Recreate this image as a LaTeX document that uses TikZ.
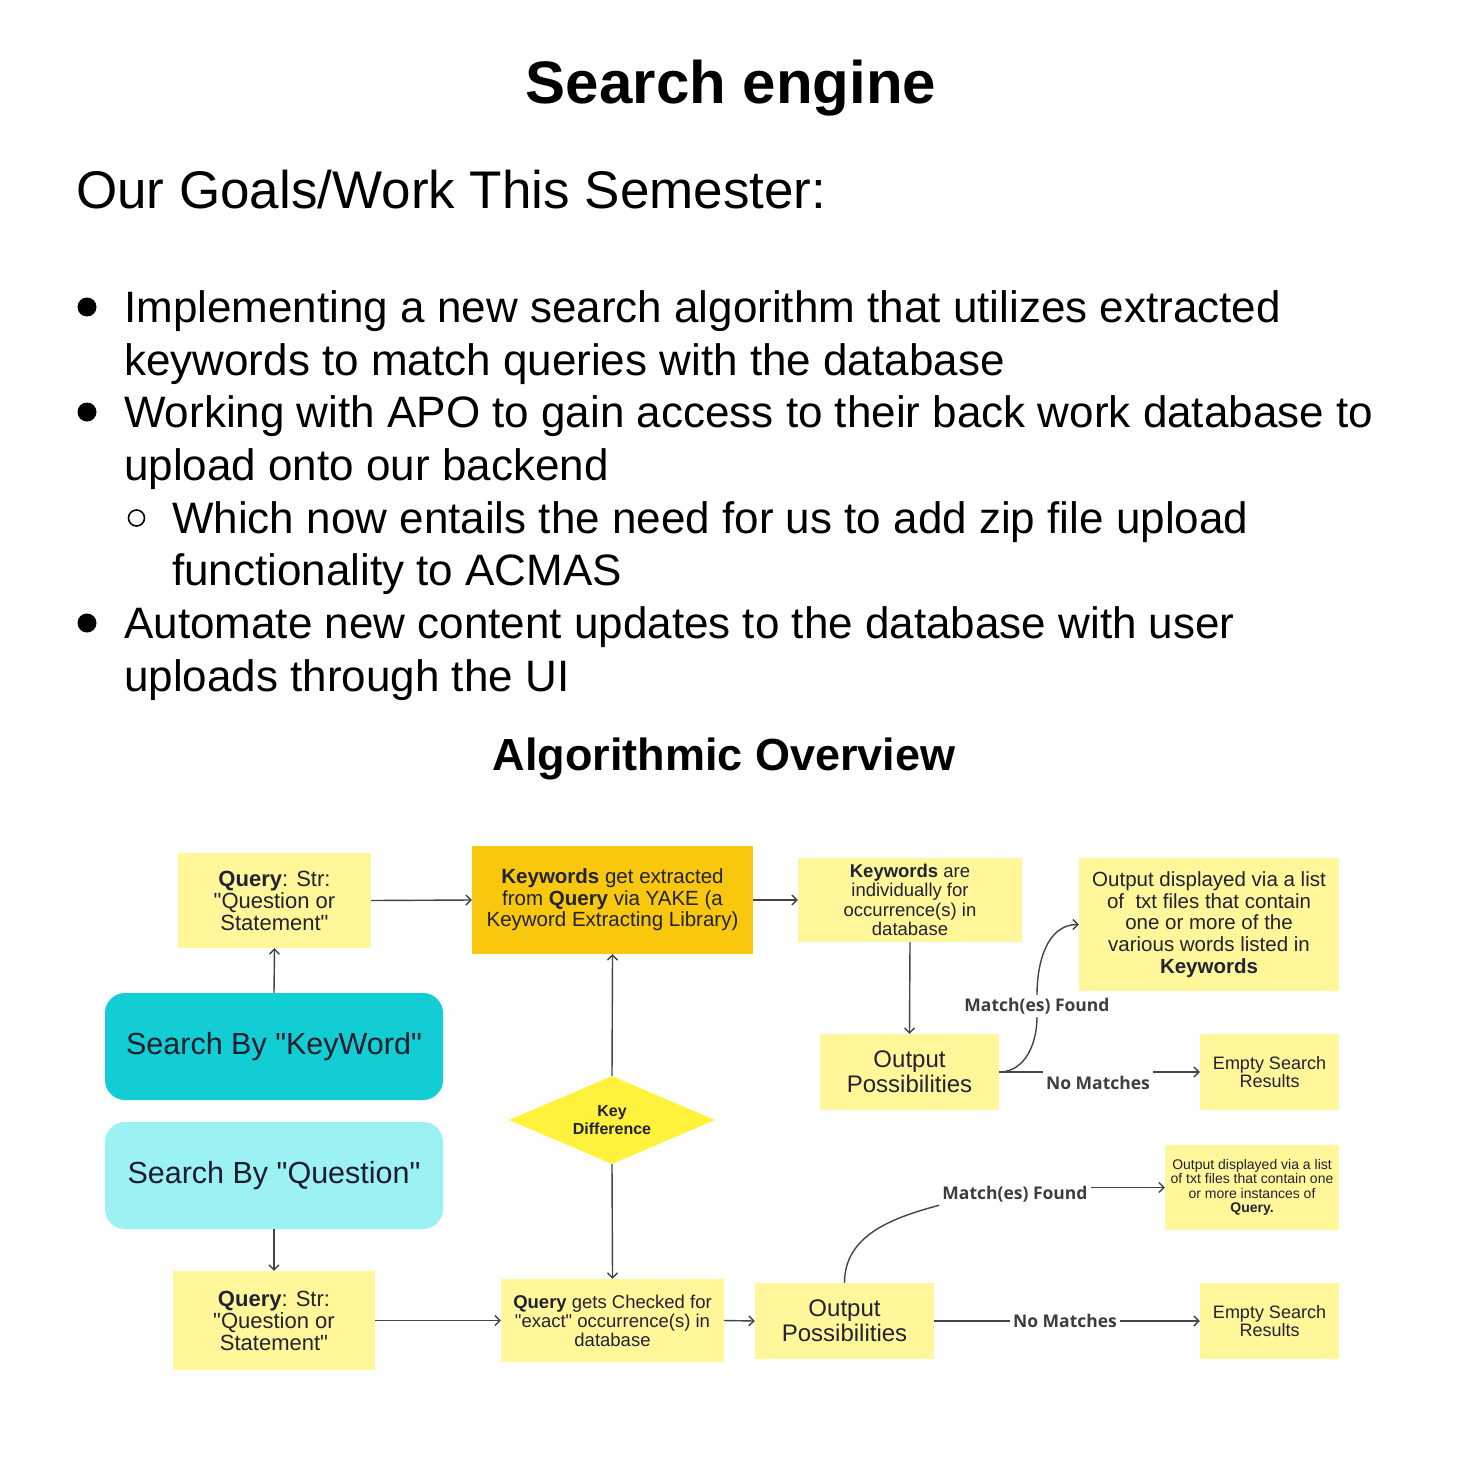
\documentclass[tikz,border=0pt]{standalone}
\usepackage{fontspec}
\setmainfont{Liberation Sans}[Ligatures=TeXOff]
\newfontfamily\lblfont{Open Sans}
\usetikzlibrary{arrows.meta,shapes.geometric}
\definecolor{ylw}{HTML}{FFF799}
\definecolor{gold}{HTML}{F9C80E}
\definecolor{tealbox}{HTML}{12CDD4}
\definecolor{cyanbox}{HTML}{9CF2F2}
\definecolor{diafill}{HTML}{FFF23C}
\definecolor{txt}{HTML}{222233}
\definecolor{arrc}{HTML}{444444}
\newcommand{\fs}[2]{\fontsize{#1}{#2}\selectfont}
\begin{document}
\begin{tikzpicture}[x=1pt,y=-1pt,
  ybox/.style={fill=ylw, draw=none, text=txt, align=center, inner sep=0pt},
  gbox/.style={fill=gold, draw=none, text=txt, align=center, inner sep=0pt},
  rbox/.style={draw=none, rounded corners=20pt, text=txt!85!black, align=center, inner sep=0pt, minimum width=338pt, minimum height=107pt, font=\fs{30.5}{32}},
  line/.style={draw=arrc, line width=1.4pt},
  arr/.style={line, -{Straight Barb[length=5pt,width=10pt,line width=1.4pt]}},
  lbl/.style={font=\lblfont\bfseries\fs{17.5}{18}, text=arrc!90!black, inner sep=3pt},
  top/.style={anchor=base west, inner sep=0pt, font=\fs{44}{52.7}},
  qtext/.style={font=\fs{22}{22}}
]
\useasboundingbox (0,0) rectangle (1471,1471);
\fill[white] (0,0) rectangle (1471,1471);

% ---- header text
\node[anchor=base, inner sep=0pt, font=\fs{60}{60}\bfseries] (title) at (731,104) {Search engine};
\node[anchor=base west, inner sep=0pt, font=\fs{53}{53}] (goals) at (76,209) {Our Goals/Work This Semester:};

\fill (87,307) circle (9.5);
\node[top] (l1) at (124,322) {Implementing a new search algorithm that utilizes extracted};
\node[top] (l2) at (124,375) {keywords to match queries with the database};
\fill (87,412) circle (9.5);
\node[top] (l3) at (124,427) {Working with APO to gain access to their back work database to};
\node[top] (l4) at (124,480) {upload onto our backend};
\draw[line width=1.6pt] (136.5,518) circle (8);
\node[top] (l5) at (172,533) {Which now entails the need for us to add zip file upload};
\node[top] (l6) at (172,585) {functionality to ACMAS};
\fill (87,623) circle (9.5);
\node[top] (l7) at (124,638) {Automate new content updates to the database with user};
\node[top] (l8) at (124,691) {uploads through the UI};

\node[anchor=base, inner sep=0pt, font=\fs{45}{45}\bfseries] (algo) at (724,770) {Algorithmic Overview};

% ---- diagram nodes
\node[ybox, qtext, minimum width=193pt, minimum height=95pt] (q1) at (274.5,900.5)
  {\textbf{Query}: Str:\\"Question or\\Statement"};
\node[gbox, font=\fs{20.5}{21.5}, minimum width=281pt, minimum height=108pt] (kx) at (612.5,900)
  {\textbf{Keywords} get extracted\\from \textbf{Query} via YAKE (a\\Keyword Extracting Library)};
\node[ybox, font=\fs{18.5}{19.5}, minimum width=224pt, minimum height=84pt] (ki) at (910,900)
  {\textbf{Keywords} are\\individually for\\occurrence(s) in\\database};
\node[ybox, font=\fs{20.5}{21.7}, minimum width=260pt, minimum height=133pt] (out1) at (1209,924.5)
  {Output displayed via a list\\of\ \ txt files that contain\\one or more of the\\various words listed in\\\textbf{Keywords}};
\node[ybox, font=\fs{24}{25}, minimum width=179pt, minimum height=76pt] (op1) at (909.5,1072)
  {Output\\Possibilities};
\node[ybox, font=\fs{18}{18.5}, minimum width=139pt, minimum height=76pt] (emp1) at (1269.5,1072)
  {Empty Search\\Results};

\node[rbox, fill=tealbox] (sk) at (274,1046.5) {Search By "KeyWord"};
\node[rbox, fill=cyanbox] (sq) at (274,1175.5) {Search By "Question"};

\node[diamond, fill=diafill, draw=none, text=txt, align=center, inner sep=0pt,
  minimum width=206pt, minimum height=88pt, shape aspect=2.34, font=\fs{16}{18.5}\bfseries] (dia) at (612,1120)
  {Key\\Difference};

\node[ybox, qtext, minimum width=202pt, minimum height=99pt] (q2) at (274,1320.5)
  {\textbf{Query}: Str:\\"Question or\\Statement"};
\node[ybox, font=\fs{18.5}{19}, minimum width=223pt, minimum height=83pt] (qc) at (612.5,1320.5)
  {\textbf{Query} gets Checked for\\"exact" occurrence(s) in\\database};
\node[ybox, font=\fs{24}{25}, minimum width=179pt, minimum height=76pt] (op2) at (844.5,1321)
  {Output\\Possibilities};
\node[ybox, font=\fs{14}{14.3}, minimum width=174pt, minimum height=85pt] (out2) at (1252,1187.5)
  {Output displayed via a list\\of txt files that contain one\\or more instances of\\\textbf{Query.}};
\node[ybox, font=\fs{18}{18.5}, minimum width=139pt, minimum height=76pt] (emp2) at (1269.5,1321)
  {Empty Search\\Results};

% ---- labels
\node[lbl] (mf1) at (1037,1006) {Match(es) Found};
\node[lbl] (nm1) at (1098,1083) {No Matches};
\node[lbl] (mf2) at (1015,1194) {Match(es) Found};
\node[lbl] (nm2) at (1065,1321) {No Matches};

% ---- connectors
\draw[arr] (q1.east) -- (kx.west);
\draw[arr] (kx.east) -- (ki.west);
\draw[arr] (ki.south) -- (op1.north);
\draw[arr] (sk.north) -- (q1.south);
\draw[arr] (dia.north) -- (kx.south);
\draw[arr] (dia.south) -- (qc.north);
\draw[arr] (sq.south) -- (q2.north);
\draw[arr] (q2.east) -- (qc.west);
\draw[arr] (qc.east) -- (op2.west);

\draw[line] (op1.east) to[out=0,in=-90] (mf1.south);
\draw[arr] (mf1.north) to[out=90,in=180] (out1.west);
\draw[line] (op1.east) -- (op1.east -| nm1.west);
\draw[arr] (op1.east -| nm1.east) -- (emp1.west);

\draw[line] (op2.north) to[out=90,in=195] (mf2.south west);
\draw[arr] (mf2.east |- out2.west) -- (out2.west);
\draw[line] (op2.east) -- (nm2.west);
\draw[arr] (nm2.east) -- (emp2.west);
\end{tikzpicture}
\end{document}
